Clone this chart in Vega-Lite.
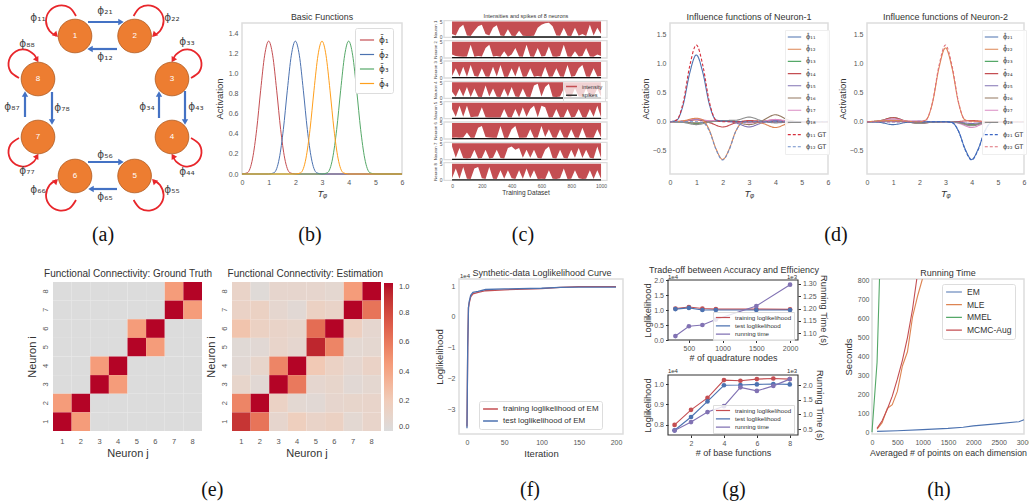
{"$schema":"https://vega.github.io/schema/vega-lite/v6.json","width":1029,"height":504,"padding":0,"autosize":{"type":"none"},"background":"white",
"config":{"view":{"stroke":null},"font":"Liberation Sans","axis":{"grid":false,"domain":false,"ticks":false,"labelColor":"#555","labelFontSize":7,"titleColor":"#333","titleFontSize":9.5,"titleFontWeight":"normal","labelPadding":4,"labelFlush":false,"labelOverlap":false,"labelBound":false},"text":{"color":"#333"}},
"resolve":{"scale":{"x":"independent","y":"independent","color":"independent","strokeDash":"independent"},"axis":{"x":"independent","y":"independent"},"legend":{"color":"independent","strokeDash":"independent"}},
"datasets":{
"cf":[{"t":-54,"t2":1040,"v":-0.1,"v2":5.3}],"cs":[{"t":0,"v":0},{"t":1000,"v":0}],
"c1":[{"t":0,"v":1},{"t":25,"v":0.5},{"t":50,"v":3},{"t":75,"v":4},{"t":100,"v":0.5},{"t":125,"v":0.3},{"t":150,"v":2},{"t":175,"v":3.5},{"t":200,"v":4},{"t":225,"v":1},{"t":250,"v":0.5},{"t":275,"v":3},{"t":300,"v":3.8},{"t":325,"v":0.5},{"t":350,"v":0.3},{"t":375,"v":2.5},{"t":400,"v":0.4},{"t":425,"v":0.3},{"t":450,"v":2},{"t":475,"v":0.4},{"t":500,"v":0.3},{"t":525,"v":0.3},{"t":550,"v":0.4},{"t":575,"v":3},{"t":600,"v":4},{"t":625,"v":4.5},{"t":650,"v":4.6},{"t":675,"v":3.5},{"t":700,"v":0.5},{"t":725,"v":0.4},{"t":750,"v":3},{"t":775,"v":0.4},{"t":800,"v":0.3},{"t":825,"v":3},{"t":850,"v":0.4},{"t":875,"v":1},{"t":900,"v":0.3},{"t":925,"v":4},{"t":950,"v":0.5},{"t":975,"v":3},{"t":1000,"v":1}],
"c2":[{"t":0,"v":1},{"t":25,"v":0.5},{"t":50,"v":0.4},{"t":75,"v":0.3},{"t":100,"v":0.4},{"t":125,"v":4},{"t":150,"v":0.3},{"t":175,"v":0.5},{"t":200,"v":0.4},{"t":225,"v":3},{"t":250,"v":4},{"t":275,"v":0.4},{"t":300,"v":0.5},{"t":325,"v":0.3},{"t":350,"v":2},{"t":375,"v":0.3},{"t":400,"v":1},{"t":425,"v":3},{"t":450,"v":0.4},{"t":475,"v":0.3},{"t":500,"v":4},{"t":525,"v":0.4},{"t":550,"v":0.3},{"t":575,"v":3},{"t":600,"v":0.4},{"t":625,"v":0.5},{"t":650,"v":3.5},{"t":675,"v":0.4},{"t":700,"v":0.3},{"t":725,"v":0.5},{"t":750,"v":4},{"t":775,"v":0.4},{"t":800,"v":0.3},{"t":825,"v":2},{"t":850,"v":0.4},{"t":875,"v":0.5},{"t":900,"v":3},{"t":925,"v":0.4},{"t":950,"v":0.3},{"t":975,"v":1},{"t":1000,"v":0.5}],
"c3":[{"t":0,"v":0.5},{"t":25,"v":3},{"t":50,"v":0.4},{"t":75,"v":3.5},{"t":100,"v":0.3},{"t":125,"v":4},{"t":150,"v":0.5},{"t":175,"v":0.3},{"t":200,"v":3},{"t":225,"v":0.4},{"t":250,"v":0.3},{"t":275,"v":3.5},{"t":300,"v":0.4},{"t":325,"v":4},{"t":350,"v":0.3},{"t":375,"v":0.3},{"t":400,"v":3},{"t":425,"v":0.4},{"t":450,"v":3.8},{"t":475,"v":0.3},{"t":500,"v":0.4},{"t":525,"v":3},{"t":550,"v":0.3},{"t":575,"v":0.5},{"t":600,"v":0.3},{"t":625,"v":3.5},{"t":650,"v":0.3},{"t":675,"v":0.4},{"t":700,"v":3},{"t":725,"v":0.4},{"t":750,"v":0.3},{"t":775,"v":4},{"t":800,"v":0.3},{"t":825,"v":0.5},{"t":850,"v":3},{"t":875,"v":4},{"t":900,"v":0.4},{"t":925,"v":0.3},{"t":950,"v":3},{"t":975,"v":0.4},{"t":1000,"v":0.5}],
"c4":[{"t":0,"v":2},{"t":25,"v":0.4},{"t":50,"v":3},{"t":75,"v":0.5},{"t":100,"v":3.5},{"t":125,"v":0.3},{"t":150,"v":3},{"t":175,"v":0.4},{"t":200,"v":0.3},{"t":225,"v":4},{"t":250,"v":0.5},{"t":275,"v":3},{"t":300,"v":0.4},{"t":325,"v":0.3},{"t":350,"v":3},{"t":375,"v":0.4},{"t":400,"v":3.5},{"t":425,"v":0.5},{"t":450,"v":0.3},{"t":475,"v":3},{"t":500,"v":0.4},{"t":525,"v":0.3},{"t":550,"v":4},{"t":575,"v":4.5},{"t":600,"v":0.5},{"t":625,"v":3.5},{"t":650,"v":4.5},{"t":675,"v":0.4},{"t":700,"v":0.3},{"t":725,"v":0.5},{"t":750,"v":3},{"t":775,"v":0.4},{"t":800,"v":0.3},{"t":825,"v":3},{"t":850,"v":0.5},{"t":875,"v":0.4},{"t":900,"v":3},{"t":925,"v":0.3},{"t":950,"v":0.5},{"t":975,"v":3},{"t":1000,"v":0.4}],
"c5":[{"t":0,"v":3},{"t":25,"v":0.5},{"t":50,"v":4},{"t":75,"v":0.5},{"t":100,"v":4},{"t":125,"v":0.4},{"t":150,"v":0.5},{"t":175,"v":0.6},{"t":200,"v":3.5},{"t":225,"v":0.4},{"t":250,"v":0.3},{"t":275,"v":0.3},{"t":300,"v":0.3},{"t":325,"v":0.3},{"t":350,"v":3},{"t":375,"v":0.4},{"t":400,"v":0.3},{"t":425,"v":3},{"t":450,"v":0.4},{"t":475,"v":3.5},{"t":500,"v":0.5},{"t":525,"v":3},{"t":550,"v":4},{"t":575,"v":0.4},{"t":600,"v":4},{"t":625,"v":3.5},{"t":650,"v":0.3},{"t":675,"v":0.4},{"t":700,"v":3},{"t":725,"v":0.3},{"t":750,"v":0.4},{"t":775,"v":3},{"t":800,"v":0.3},{"t":825,"v":0.5},{"t":850,"v":3},{"t":875,"v":0.4},{"t":900,"v":0.3},{"t":925,"v":3},{"t":950,"v":0.5},{"t":975,"v":4},{"t":1000,"v":0.4}],
"c6":[{"t":0,"v":0.3},{"t":25,"v":0.4},{"t":50,"v":0.3},{"t":75,"v":0.4},{"t":100,"v":2},{"t":125,"v":0.3},{"t":150,"v":0.3},{"t":175,"v":3.5},{"t":200,"v":4},{"t":225,"v":0.5},{"t":250,"v":0.4},{"t":275,"v":0.3},{"t":300,"v":0.3},{"t":325,"v":4},{"t":350,"v":0.3},{"t":375,"v":0.3},{"t":400,"v":3},{"t":425,"v":4},{"t":450,"v":0.3},{"t":475,"v":0.3},{"t":500,"v":0.4},{"t":525,"v":3},{"t":550,"v":0.3},{"t":575,"v":0.4},{"t":600,"v":4},{"t":625,"v":0.5},{"t":650,"v":3},{"t":675,"v":0.4},{"t":700,"v":0.3},{"t":725,"v":3},{"t":750,"v":0.4},{"t":775,"v":0.3},{"t":800,"v":3},{"t":825,"v":0.4},{"t":850,"v":0.3},{"t":875,"v":3.5},{"t":900,"v":0.4},{"t":925,"v":0.3},{"t":950,"v":0.3},{"t":975,"v":3},{"t":1000,"v":0.4}],
"c7":[{"t":0,"v":4},{"t":25,"v":0.5},{"t":50,"v":3.5},{"t":75,"v":0.4},{"t":100,"v":0.3},{"t":125,"v":0.4},{"t":150,"v":3},{"t":175,"v":0.3},{"t":200,"v":0.4},{"t":225,"v":3},{"t":250,"v":0.3},{"t":275,"v":0.5},{"t":300,"v":3},{"t":325,"v":0.4},{"t":350,"v":0.3},{"t":375,"v":3.5},{"t":400,"v":4},{"t":425,"v":3},{"t":450,"v":3.5},{"t":475,"v":0.5},{"t":500,"v":3},{"t":525,"v":0.5},{"t":550,"v":3},{"t":575,"v":0.4},{"t":600,"v":0.3},{"t":625,"v":3},{"t":650,"v":4},{"t":675,"v":0.4},{"t":700,"v":0.3},{"t":725,"v":3},{"t":750,"v":0.4},{"t":775,"v":0.3},{"t":800,"v":3},{"t":825,"v":0.5},{"t":850,"v":3.5},{"t":875,"v":0.4},{"t":900,"v":3},{"t":925,"v":0.5},{"t":950,"v":0.3},{"t":975,"v":4},{"t":1000,"v":0.4}],
"c8":[{"t":0,"v":0.5},{"t":25,"v":3.5},{"t":50,"v":0.4},{"t":75,"v":4},{"t":100,"v":0.4},{"t":125,"v":0.3},{"t":150,"v":3.5},{"t":175,"v":4},{"t":200,"v":0.5},{"t":225,"v":0.3},{"t":250,"v":4},{"t":275,"v":0.4},{"t":300,"v":0.3},{"t":325,"v":3},{"t":350,"v":0.4},{"t":375,"v":3},{"t":400,"v":0.5},{"t":425,"v":0.3},{"t":450,"v":3},{"t":475,"v":0.4},{"t":500,"v":3.5},{"t":525,"v":0.5},{"t":550,"v":3},{"t":575,"v":0.3},{"t":600,"v":0.4},{"t":625,"v":0.3},{"t":650,"v":3},{"t":675,"v":0.4},{"t":700,"v":0.3},{"t":725,"v":0.5},{"t":750,"v":3.5},{"t":775,"v":0.3},{"t":800,"v":0.4},{"t":825,"v":3},{"t":850,"v":0.5},{"t":875,"v":0.3},{"t":900,"v":0.4},{"t":925,"v":3},{"t":950,"v":0.3},{"t":975,"v":3},{"t":1000,"v":0.4}],
"e2":[{"i":8,"j":1,"v":0.12},{"i":8,"j":2,"v":0.03},{"i":8,"j":3,"v":0.09},{"i":8,"j":4,"v":0.09},{"i":8,"j":5,"v":0.09},{"i":8,"j":6,"v":0.07},{"i":8,"j":7,"v":0.45},{"i":8,"j":8,"v":1},{"i":7,"j":1,"v":0.13},{"i":7,"j":2,"v":0.15},{"i":7,"j":3,"v":0.08},{"i":7,"j":4,"v":0.05},{"i":7,"j":5,"v":0.15},{"i":7,"j":6,"v":0.12},{"i":7,"j":7,"v":1},{"i":7,"j":8,"v":0.62},{"i":6,"j":1,"v":0.25},{"i":6,"j":2,"v":0.15},{"i":6,"j":3,"v":0.12},{"i":6,"j":4,"v":0.1},{"i":6,"j":5,"v":0.65},{"i":6,"j":6,"v":1},{"i":6,"j":7,"v":0.17},{"i":6,"j":8,"v":0.08},{"i":5,"j":1,"v":0.04},{"i":5,"j":2,"v":0.05},{"i":5,"j":3,"v":0.11},{"i":5,"j":4,"v":0.08},{"i":5,"j":5,"v":0.93},{"i":5,"j":6,"v":0.55},{"i":5,"j":7,"v":0.06},{"i":5,"j":8,"v":0.07},{"i":4,"j":1,"v":0.05},{"i":4,"j":2,"v":0.1},{"i":4,"j":3,"v":0.55},{"i":4,"j":4,"v":1},{"i":4,"j":5,"v":0.22},{"i":4,"j":6,"v":0.14},{"i":4,"j":7,"v":0.08},{"i":4,"j":8,"v":0.13},{"i":3,"j":1,"v":0.1},{"i":3,"j":2,"v":0.05},{"i":3,"j":3,"v":1},{"i":3,"j":4,"v":0.6},{"i":3,"j":5,"v":0.08},{"i":3,"j":6,"v":0.1},{"i":3,"j":7,"v":0.05},{"i":3,"j":8,"v":0.07},{"i":2,"j":1,"v":0.55},{"i":2,"j":2,"v":1},{"i":2,"j":3,"v":0.14},{"i":2,"j":4,"v":0.06},{"i":2,"j":5,"v":0.05},{"i":2,"j":6,"v":0.09},{"i":2,"j":7,"v":0.1},{"i":2,"j":8,"v":0.11},{"i":1,"j":1,"v":0.88},{"i":1,"j":2,"v":0.62},{"i":1,"j":3,"v":0.09},{"i":1,"j":4,"v":0.18},{"i":1,"j":5,"v":0.12},{"i":1,"j":6,"v":0.15},{"i":1,"j":7,"v":0.06},{"i":1,"j":8,"v":0.11}],
"e1":[{"i":8,"j":1,"v":0},{"i":8,"j":2,"v":0},{"i":8,"j":3,"v":0},{"i":8,"j":4,"v":0},{"i":8,"j":5,"v":0},{"i":8,"j":6,"v":0},{"i":8,"j":7,"v":0.45},{"i":8,"j":8,"v":1},{"i":7,"j":1,"v":0},{"i":7,"j":2,"v":0},{"i":7,"j":3,"v":0},{"i":7,"j":4,"v":0},{"i":7,"j":5,"v":0},{"i":7,"j":6,"v":0},{"i":7,"j":7,"v":1},{"i":7,"j":8,"v":0.45},{"i":6,"j":1,"v":0},{"i":6,"j":2,"v":0},{"i":6,"j":3,"v":0},{"i":6,"j":4,"v":0},{"i":6,"j":5,"v":0.45},{"i":6,"j":6,"v":1},{"i":6,"j":7,"v":0},{"i":6,"j":8,"v":0},{"i":5,"j":1,"v":0},{"i":5,"j":2,"v":0},{"i":5,"j":3,"v":0},{"i":5,"j":4,"v":0},{"i":5,"j":5,"v":1},{"i":5,"j":6,"v":0.45},{"i":5,"j":7,"v":0},{"i":5,"j":8,"v":0},{"i":4,"j":1,"v":0},{"i":4,"j":2,"v":0},{"i":4,"j":3,"v":0.45},{"i":4,"j":4,"v":1},{"i":4,"j":5,"v":0},{"i":4,"j":6,"v":0},{"i":4,"j":7,"v":0},{"i":4,"j":8,"v":0},{"i":3,"j":1,"v":0},{"i":3,"j":2,"v":0},{"i":3,"j":3,"v":1},{"i":3,"j":4,"v":0.45},{"i":3,"j":5,"v":0},{"i":3,"j":6,"v":0},{"i":3,"j":7,"v":0},{"i":3,"j":8,"v":0},{"i":2,"j":1,"v":0.45},{"i":2,"j":2,"v":1},{"i":2,"j":3,"v":0},{"i":2,"j":4,"v":0},{"i":2,"j":5,"v":0},{"i":2,"j":6,"v":0},{"i":2,"j":7,"v":0},{"i":2,"j":8,"v":0},{"i":1,"j":1,"v":1},{"i":1,"j":2,"v":0.45},{"i":1,"j":3,"v":0},{"i":1,"j":4,"v":0},{"i":1,"j":5,"v":0},{"i":1,"j":6,"v":0},{"i":1,"j":7,"v":0},{"i":1,"j":8,"v":0}],
"d1":[
{"s":"ϕ̂₁₃","x":0,"y":0},{"s":"ϕ̂₁₃","x":0.5,"y":-0.008},{"s":"ϕ̂₁₃","x":1,"y":-0.03},{"s":"ϕ̂₁₃","x":1.5,"y":-0.003},{"s":"ϕ̂₁₃","x":2,"y":0.02},{"s":"ϕ̂₁₃","x":2.5,"y":0.005},{"s":"ϕ̂₁₃","x":3,"y":0},{"s":"ϕ̂₁₃","x":6,"y":0},
{"s":"ϕ̂₁₄","x":0,"y":0},{"s":"ϕ̂₁₄","x":0.5,"y":0.008},{"s":"ϕ̂₁₄","x":1,"y":0.03},{"s":"ϕ̂₁₄","x":1.5,"y":-0.015},{"s":"ϕ̂₁₄","x":2,"y":-0.09},{"s":"ϕ̂₁₄","x":2.5,"y":-0.018},{"s":"ϕ̂₁₄","x":3,"y":0.02},{"s":"ϕ̂₁₄","x":3.5,"y":0.012},{"s":"ϕ̂₁₄","x":4,"y":0.03},{"s":"ϕ̂₁₄","x":4.5,"y":0.008},{"s":"ϕ̂₁₄","x":5,"y":0},{"s":"ϕ̂₁₄","x":6,"y":0},
{"s":"ϕ̂₁₅","x":0,"y":0},{"s":"ϕ̂₁₅","x":0.5,"y":0.01},{"s":"ϕ̂₁₅","x":1,"y":0.04},{"s":"ϕ̂₁₅","x":1.5,"y":0.012},{"s":"ϕ̂₁₅","x":2,"y":0.01},{"s":"ϕ̂₁₅","x":2.5,"y":-0.02},{"s":"ϕ̂₁₅","x":3,"y":-0.09},{"s":"ϕ̂₁₅","x":3.5,"y":-0.018},{"s":"ϕ̂₁₅","x":4,"y":0.02},{"s":"ϕ̂₁₅","x":4.5,"y":0.005},{"s":"ϕ̂₁₅","x":5,"y":0},{"s":"ϕ̂₁₅","x":6,"y":0},
{"s":"ϕ̂₁₆","x":0,"y":0},{"s":"ϕ̂₁₆","x":0.5,"y":-0.005},{"s":"ϕ̂₁₆","x":1,"y":-0.02},{"s":"ϕ̂₁₆","x":1.5,"y":0},{"s":"ϕ̂₁₆","x":2,"y":0.02},{"s":"ϕ̂₁₆","x":2.5,"y":-0.008},{"s":"ϕ̂₁₆","x":3,"y":-0.05},{"s":"ϕ̂₁₆","x":3.5,"y":0.018},{"s":"ϕ̂₁₆","x":4,"y":0.12},{"s":"ϕ̂₁₆","x":4.5,"y":0.03},{"s":"ϕ̂₁₆","x":5,"y":0},{"s":"ϕ̂₁₆","x":6,"y":0},
{"s":"ϕ̂₁₇","x":0,"y":0},{"s":"ϕ̂₁₇","x":0.5,"y":0.012},{"s":"ϕ̂₁₇","x":1,"y":0.05},{"s":"ϕ̂₁₇","x":1.5,"y":0.018},{"s":"ϕ̂₁₇","x":2,"y":0.02},{"s":"ϕ̂₁₇","x":2.5,"y":0},{"s":"ϕ̂₁₇","x":3,"y":-0.02},{"s":"ϕ̂₁₇","x":3.5,"y":0.005},{"s":"ϕ̂₁₇","x":4,"y":0.04},{"s":"ϕ̂₁₇","x":4.5,"y":0.01},{"s":"ϕ̂₁₇","x":5,"y":0},{"s":"ϕ̂₁₇","x":6,"y":0},
{"s":"ϕ̂₁₈","x":0,"y":0},{"s":"ϕ̂₁₈","x":0.5,"y":-0.012},{"s":"ϕ̂₁₈","x":1,"y":-0.05},{"s":"ϕ̂₁₈","x":1.5,"y":-0.008},{"s":"ϕ̂₁₈","x":2,"y":0.02},{"s":"ϕ̂₁₈","x":2.5,"y":0.025},{"s":"ϕ̂₁₈","x":3,"y":0.08},{"s":"ϕ̂₁₈","x":3.5,"y":0.015},{"s":"ϕ̂₁₈","x":4,"y":-0.02},{"s":"ϕ̂₁₈","x":4.5,"y":-0.005},{"s":"ϕ̂₁₈","x":5,"y":0},{"s":"ϕ̂₁₈","x":6,"y":0},
{"s":"ϕ̂₁₂","x":0,"y":0},{"s":"ϕ̂₁₂","x":0.5,"y":0.015},{"s":"ϕ̂₁₂","x":1,"y":0.06},{"s":"ϕ̂₁₂","x":1.25,"y":0.03},{"s":"ϕ̂₁₂","x":1.5,"y":-0.15},{"s":"ϕ̂₁₂","x":1.75,"y":-0.47},{"s":"ϕ̂₁₂","x":2,"y":-0.65},{"s":"ϕ̂₁₂","x":2.25,"y":-0.47},{"s":"ϕ̂₁₂","x":2.5,"y":-0.16},{"s":"ϕ̂₁₂","x":2.75,"y":-0.014},{"s":"ϕ̂₁₂","x":3,"y":0},{"s":"ϕ̂₁₂","x":3.5,"y":-0.025},{"s":"ϕ̂₁₂","x":4,"y":-0.1},{"s":"ϕ̂₁₂","x":4.5,"y":-0.025},{"s":"ϕ̂₁₂","x":5,"y":0},{"s":"ϕ̂₁₂","x":6,"y":0},
{"s":"ϕ̂₁₁","x":0,"y":0},{"s":"ϕ̂₁₁","x":0.25,"y":0.025},{"s":"ϕ̂₁₁","x":0.5,"y":0.29},{"s":"ϕ̂₁₁","x":0.75,"y":0.84},{"s":"ϕ̂₁₁","x":1,"y":1.15},{"s":"ϕ̂₁₁","x":1.25,"y":0.84},{"s":"ϕ̂₁₁","x":1.5,"y":0.29},{"s":"ϕ̂₁₁","x":1.75,"y":0.03},{"s":"ϕ̂₁₁","x":2,"y":0.01},{"s":"ϕ̂₁₁","x":3,"y":0},{"s":"ϕ̂₁₁","x":6,"y":0},
{"s":"ϕ₁₁ GT","x":0,"y":0},{"s":"ϕ₁₁ GT","x":0.25,"y":0.028},{"s":"ϕ₁₁ GT","x":0.5,"y":0.33},{"s":"ϕ₁₁ GT","x":0.75,"y":0.962},{"s":"ϕ₁₁ GT","x":1,"y":1.32},{"s":"ϕ₁₁ GT","x":1.25,"y":0.962},{"s":"ϕ₁₁ GT","x":1.5,"y":0.33},{"s":"ϕ₁₁ GT","x":1.75,"y":0.028},{"s":"ϕ₁₁ GT","x":2,"y":0},{"s":"ϕ₁₁ GT","x":6,"y":0},
{"s":"ϕ₁₂ GT","x":0,"y":0},{"s":"ϕ₁₂ GT","x":1,"y":0},{"s":"ϕ₁₂ GT","x":1.25,"y":-0.014},{"s":"ϕ₁₂ GT","x":1.5,"y":-0.165},{"s":"ϕ₁₂ GT","x":1.75,"y":-0.481},{"s":"ϕ₁₂ GT","x":2,"y":-0.66},{"s":"ϕ₁₂ GT","x":2.25,"y":-0.481},{"s":"ϕ₁₂ GT","x":2.5,"y":-0.165},{"s":"ϕ₁₂ GT","x":2.75,"y":-0.014},{"s":"ϕ₁₂ GT","x":3,"y":0},{"s":"ϕ₁₂ GT","x":6,"y":0}],
"d2":[
{"s":"ϕ̂₂₃","x":0,"y":0},{"s":"ϕ̂₂₃","x":0.5,"y":0.018},{"s":"ϕ̂₂₃","x":1,"y":0.07},{"s":"ϕ̂₂₃","x":1.5,"y":0.012},{"s":"ϕ̂₂₃","x":2,"y":-0.02},{"s":"ϕ̂₂₃","x":2.5,"y":-0.005},{"s":"ϕ̂₂₃","x":3,"y":0},{"s":"ϕ̂₂₃","x":3.5,"y":-0.012},{"s":"ϕ̂₂₃","x":4,"y":-0.05},{"s":"ϕ̂₂₃","x":4.5,"y":-0.012},{"s":"ϕ̂₂₃","x":5,"y":0},{"s":"ϕ̂₂₃","x":6,"y":0},
{"s":"ϕ̂₂₄","x":0,"y":0},{"s":"ϕ̂₂₄","x":0.5,"y":0.018},{"s":"ϕ̂₂₄","x":1,"y":0.07},{"s":"ϕ̂₂₄","x":1.5,"y":0.01},{"s":"ϕ̂₂₄","x":2,"y":-0.03},{"s":"ϕ̂₂₄","x":2.5,"y":-0.008},{"s":"ϕ̂₂₄","x":3,"y":0},{"s":"ϕ̂₂₄","x":3.5,"y":0.005},{"s":"ϕ̂₂₄","x":4,"y":0.02},{"s":"ϕ̂₂₄","x":4.5,"y":0.005},{"s":"ϕ̂₂₄","x":5,"y":0},{"s":"ϕ̂₂₄","x":6,"y":0},
{"s":"ϕ̂₂₅","x":0,"y":0},{"s":"ϕ̂₂₅","x":1.5,"y":0.002},{"s":"ϕ̂₂₅","x":2,"y":0.01},{"s":"ϕ̂₂₅","x":2.5,"y":0.002},{"s":"ϕ̂₂₅","x":3,"y":0},{"s":"ϕ̂₂₅","x":3.5,"y":-0.008},{"s":"ϕ̂₂₅","x":4,"y":-0.03},{"s":"ϕ̂₂₅","x":4.5,"y":-0.008},{"s":"ϕ̂₂₅","x":5,"y":0},{"s":"ϕ̂₂₅","x":6,"y":0},
{"s":"ϕ̂₂₆","x":0,"y":0},{"s":"ϕ̂₂₆","x":0.5,"y":0.008},{"s":"ϕ̂₂₆","x":1,"y":0.03},{"s":"ϕ̂₂₆","x":1.5,"y":0.002},{"s":"ϕ̂₂₆","x":2,"y":-0.02},{"s":"ϕ̂₂₆","x":2.5,"y":-0.005},{"s":"ϕ̂₂₆","x":3,"y":0},{"s":"ϕ̂₂₆","x":3.5,"y":-0.015},{"s":"ϕ̂₂₆","x":4,"y":-0.06},{"s":"ϕ̂₂₆","x":4.5,"y":-0.015},{"s":"ϕ̂₂₆","x":5,"y":0},{"s":"ϕ̂₂₆","x":6,"y":0},
{"s":"ϕ̂₂₇","x":0,"y":0},{"s":"ϕ̂₂₇","x":0.5,"y":0.012},{"s":"ϕ̂₂₇","x":1,"y":0.05},{"s":"ϕ̂₂₇","x":1.5,"y":0.015},{"s":"ϕ̂₂₇","x":2,"y":0.01},{"s":"ϕ̂₂₇","x":2.5,"y":0.002},{"s":"ϕ̂₂₇","x":3,"y":0},{"s":"ϕ̂₂₇","x":3.5,"y":-0.025},{"s":"ϕ̂₂₇","x":4,"y":-0.1},{"s":"ϕ̂₂₇","x":4.5,"y":-0.025},{"s":"ϕ̂₂₇","x":5,"y":0},{"s":"ϕ̂₂₇","x":6,"y":0},
{"s":"ϕ̂₂₈","x":0,"y":0},{"s":"ϕ̂₂₈","x":0.5,"y":0.005},{"s":"ϕ̂₂₈","x":1,"y":0.02},{"s":"ϕ̂₂₈","x":1.5,"y":-0.002},{"s":"ϕ̂₂₈","x":2,"y":-0.03},{"s":"ϕ̂₂₈","x":2.5,"y":-0.008},{"s":"ϕ̂₂₈","x":3,"y":0},{"s":"ϕ̂₂₈","x":3.5,"y":-0.018},{"s":"ϕ̂₂₈","x":4,"y":-0.07},{"s":"ϕ̂₂₈","x":4.5,"y":-0.018},{"s":"ϕ̂₂₈","x":5,"y":0},{"s":"ϕ̂₂₈","x":6,"y":0},
{"s":"ϕ̂₂₁","x":0,"y":0},{"s":"ϕ̂₂₁","x":0.5,"y":-0.012},{"s":"ϕ̂₂₁","x":1,"y":-0.05},{"s":"ϕ̂₂₁","x":1.5,"y":-0.012},{"s":"ϕ̂₂₁","x":2,"y":0},{"s":"ϕ̂₂₁","x":3,"y":0},{"s":"ϕ̂₂₁","x":3.25,"y":-0.014},{"s":"ϕ̂₂₁","x":3.5,"y":-0.165},{"s":"ϕ̂₂₁","x":3.75,"y":-0.47},{"s":"ϕ̂₂₁","x":4,"y":-0.65},{"s":"ϕ̂₂₁","x":4.25,"y":-0.47},{"s":"ϕ̂₂₁","x":4.5,"y":-0.165},{"s":"ϕ̂₂₁","x":4.75,"y":-0.014},{"s":"ϕ̂₂₁","x":5,"y":0},{"s":"ϕ̂₂₁","x":6,"y":0},
{"s":"ϕ̂₂₂","x":0,"y":0},{"s":"ϕ̂₂₂","x":1,"y":0.02},{"s":"ϕ̂₂₂","x":2,"y":0},{"s":"ϕ̂₂₂","x":2.25,"y":0.03},{"s":"ϕ̂₂₂","x":2.5,"y":0.32},{"s":"ϕ̂₂₂","x":2.75,"y":0.925},{"s":"ϕ̂₂₂","x":3,"y":1.27},{"s":"ϕ̂₂₂","x":3.25,"y":0.925},{"s":"ϕ̂₂₂","x":3.5,"y":0.32},{"s":"ϕ̂₂₂","x":3.75,"y":0.03},{"s":"ϕ̂₂₂","x":4,"y":0.01},{"s":"ϕ̂₂₂","x":5,"y":0},{"s":"ϕ̂₂₂","x":6,"y":0},
{"s":"ϕ₂₁ GT","x":0,"y":0},{"s":"ϕ₂₁ GT","x":3,"y":0},{"s":"ϕ₂₁ GT","x":3.25,"y":-0.014},{"s":"ϕ₂₁ GT","x":3.5,"y":-0.165},{"s":"ϕ₂₁ GT","x":3.75,"y":-0.481},{"s":"ϕ₂₁ GT","x":4,"y":-0.66},{"s":"ϕ₂₁ GT","x":4.25,"y":-0.481},{"s":"ϕ₂₁ GT","x":4.5,"y":-0.165},{"s":"ϕ₂₁ GT","x":4.75,"y":-0.014},{"s":"ϕ₂₁ GT","x":5,"y":0},{"s":"ϕ₂₁ GT","x":6,"y":0},
{"s":"ϕ₂₂ GT","x":0,"y":0},{"s":"ϕ₂₂ GT","x":2,"y":0},{"s":"ϕ₂₂ GT","x":2.25,"y":0.028},{"s":"ϕ₂₂ GT","x":2.5,"y":0.33},{"s":"ϕ₂₂ GT","x":2.75,"y":0.962},{"s":"ϕ₂₂ GT","x":3,"y":1.32},{"s":"ϕ₂₂ GT","x":3.25,"y":0.962},{"s":"ϕ₂₂ GT","x":3.5,"y":0.33},{"s":"ϕ₂₂ GT","x":3.75,"y":0.028},{"s":"ϕ₂₂ GT","x":4,"y":0},{"s":"ϕ₂₂ GT","x":6,"y":0}]
},
"layer":[
{"encoding":{"x":{"field":"x","type":"quantitative","scale":{"domain":[0,210],"range":[0,210]},"axis":null},"y":{"field":"y","type":"quantitative","scale":{"domain":[0,210],"range":[0,210]},"axis":null}},
"layer":[
{"data":{"values":[{"g":"1","i":0,"x":76,"y":16},{"g":"1","i":1,"x":69.3,"y":7.6},{"g":"1","i":2,"x":58.8,"y":5.7},{"g":"1","i":3,"x":49.6,"y":11},{"g":"1","i":4,"x":46,"y":21},{"g":"1","i":5,"x":49.6,"y":31},{"g":"1","i":6,"x":56.2,"y":35.6},{"g":"2","i":0,"x":133.6,"y":16},{"g":"2","i":1,"x":140.3,"y":7.6},{"g":"2","i":2,"x":150.8,"y":5.7},{"g":"2","i":3,"x":160,"y":11},{"g":"2","i":4,"x":163.6,"y":21},{"g":"2","i":5,"x":160,"y":31},{"g":"2","i":6,"x":153.4,"y":35.6},{"g":"6","i":0,"x":76,"y":200},{"g":"6","i":1,"x":69.3,"y":208.4},{"g":"6","i":2,"x":58.8,"y":210.3},{"g":"6","i":3,"x":49.6,"y":205},{"g":"6","i":4,"x":46,"y":195},{"g":"6","i":5,"x":49.6,"y":185},{"g":"6","i":6,"x":56.2,"y":180.4},{"g":"5","i":0,"x":133.6,"y":200},{"g":"5","i":1,"x":140.3,"y":208.4},{"g":"5","i":2,"x":150.8,"y":210.3},{"g":"5","i":3,"x":160,"y":205},{"g":"5","i":4,"x":163.6,"y":195},{"g":"5","i":5,"x":160,"y":185},{"g":"5","i":6,"x":153.4,"y":180.4},{"g":"3","i":0,"x":191,"y":78},{"g":"3","i":1,"x":199.6,"y":71.3},{"g":"3","i":2,"x":201,"y":60.2},{"g":"3","i":3,"x":194.3,"y":51.4},{"g":"3","i":4,"x":184.5,"y":49.7},{"g":"3","i":5,"x":175.9,"y":54.7},{"g":"3","i":6,"x":173,"y":60.2},{"g":"4","i":0,"x":191,"y":138},{"g":"4","i":1,"x":199.6,"y":144.7},{"g":"4","i":2,"x":201,"y":155.8},{"g":"4","i":3,"x":194.3,"y":164.6},{"g":"4","i":4,"x":184.5,"y":166.3},{"g":"4","i":5,"x":175.9,"y":161.3},{"g":"4","i":6,"x":173,"y":155.8},{"g":"8","i":0,"x":19,"y":78},{"g":"8","i":1,"x":10.4,"y":71.3},{"g":"8","i":2,"x":9,"y":60.2},{"g":"8","i":3,"x":15.7,"y":51.4},{"g":"8","i":4,"x":25.5,"y":49.7},{"g":"8","i":5,"x":34.1,"y":54.7},{"g":"8","i":6,"x":37,"y":60.2},{"g":"7","i":0,"x":19,"y":138},{"g":"7","i":1,"x":10.4,"y":144.7},{"g":"7","i":2,"x":9,"y":155.8},{"g":"7","i":3,"x":15.7,"y":164.6},{"g":"7","i":4,"x":25.5,"y":166.3},{"g":"7","i":5,"x":34.1,"y":161.3},{"g":"7","i":6,"x":37,"y":155.8}]},"mark":{"type":"line","color":"#e8262b","strokeWidth":1.8,"interpolate":"cardinal"},"encoding":{"detail":{"field":"g"},"order":{"field":"i"}}},
{"data":{"values":[{"g":"a","x":88,"y":22},{"g":"a","x":121,"y":22},{"g":"b","x":117,"y":49},{"g":"b","x":90,"y":49},{"g":"c","x":25,"y":117},{"g":"c","x":25,"y":94},{"g":"d","x":52,"y":92},{"g":"d","x":52,"y":122},{"g":"e","x":159,"y":118},{"g":"e","x":159,"y":94},{"g":"f","x":185,"y":91},{"g":"f","x":185,"y":122},{"g":"h","x":88,"y":162},{"g":"h","x":121,"y":162},{"g":"i","x":117,"y":189},{"g":"i","x":91,"y":189}]},"mark":{"type":"line","color":"#4472c4","strokeWidth":2.2},"encoding":{"detail":{"field":"g"}}},
{"data":{"values":[{"x":121,"y":22,"a":90},{"x":90,"y":49,"a":270},{"x":25,"y":94,"a":0},{"x":52,"y":122,"a":180},{"x":159,"y":94,"a":0},{"x":185,"y":122,"a":180},{"x":121,"y":162,"a":90},{"x":91,"y":189,"a":270}]},"mark":{"type":"point","shape":"triangle-up","filled":true,"size":40,"color":"#4472c4","opacity":1},"encoding":{"angle":{"field":"a","type":"quantitative","scale":null}}},
{"data":{"values":[{"x":56,"y":35,"a":135},{"x":154,"y":35,"a":225},{"x":56,"y":181,"a":45},{"x":154,"y":181,"a":315},{"x":173,"y":60,"a":210},{"x":173,"y":156,"a":330},{"x":37,"y":60,"a":150},{"x":37,"y":156,"a":30}]},"mark":{"type":"point","shape":"triangle-up","filled":true,"size":40,"color":"#e8262b","opacity":1},"encoding":{"angle":{"field":"a","type":"quantitative","scale":null}}},
{"data":{"values":[{"n":"1","x":75,"y":36},{"n":"2","x":134.6,"y":36},{"n":"3","x":172,"y":79},{"n":"4","x":172,"y":137},{"n":"5","x":134.6,"y":176},{"n":"6","x":75,"y":176},{"n":"7","x":38,"y":137},{"n":"8","x":38,"y":79}]},"layer":[{"mark":{"type":"point","shape":"circle","filled":true,"size":1134,"color":"#ed7d31","stroke":"#ae5a21","strokeWidth":0.8,"opacity":1}},{"mark":{"type":"text","color":"#fff","fontSize":8},"encoding":{"text":{"field":"n"}}}]},
{"data":{"values":[{"t":"ϕ₁₁","x":38,"y":18},{"t":"ϕ₂₁","x":105,"y":11},{"t":"ϕ₂₂","x":172,"y":18},{"t":"ϕ₃₃","x":187,"y":42},{"t":"ϕ₄₃","x":196,"y":107},{"t":"ϕ₃₄","x":147,"y":107},{"t":"ϕ₄₄","x":187,"y":172},{"t":"ϕ₅₅","x":172,"y":190},{"t":"ϕ₅₆","x":105,"y":155},{"t":"ϕ₆₅","x":105,"y":197},{"t":"ϕ₆₆","x":38,"y":190},{"t":"ϕ₇₇","x":27,"y":171},{"t":"ϕ₈₇","x":12,"y":107},{"t":"ϕ₇₈","x":62,"y":108},{"t":"ϕ₈₈","x":27,"y":44},{"t":"ϕ₁₂","x":105,"y":57}]},"mark":{"type":"text","fontSize":10.5,"color":"#444","font":"DejaVu Sans"},"encoding":{"text":{"field":"t"}}},
{"data":{"values":[{"t":"(a)","x":103,"y":235}]},"mark":{"type":"text","fontSize":20,"font":"Liberation Serif","color":"#111"},"encoding":{"text":{"field":"t"}}}
]},
{"encoding":{"x":{"field":"x","type":"quantitative","scale":{"domain":[0,6],"range":[242,402]},"axis":{"orient":"bottom","title":"Tᵩ","titleFontStyle":"italic","offset":-330,"values":[0,1,2,3,4,5,6],"titlePadding":3}},"y":{"field":"y","type":"quantitative","scale":{"domain":[0,1.5],"range":[174,23]},"axis":{"orient":"left","title":"Activation","offset":-242,"values":[0,0.2,0.4,0.6,0.8,1,1.2,1.4],"format":".1f","titlePadding":4}}},
"layer":[
{"data":{"values":[{"x":0,"x1":6,"y":0,"y1":1.5}]},"mark":{"type":"rect","fill":null,"stroke":"#ddd","strokeWidth":1.5},"encoding":{"x2":{"field":"x1"},"y2":{"field":"y1"}}},
{"data":{"values":[{"s":"ϕ̄₁","x":0,"y":0},{"s":"ϕ̄₁","x":0.2,"y":0.012},{"s":"ϕ̄₁","x":0.4,"y":0.158},{"s":"ϕ̄₁","x":0.55,"y":0.441},{"s":"ϕ̄₁","x":0.7,"y":0.832},{"s":"ϕ̄₁","x":0.85,"y":1.18},{"s":"ϕ̄₁","x":1,"y":1.32},{"s":"ϕ̄₁","x":1.15,"y":1.18},{"s":"ϕ̄₁","x":1.3,"y":0.832},{"s":"ϕ̄₁","x":1.45,"y":0.441},{"s":"ϕ̄₁","x":1.6,"y":0.158},{"s":"ϕ̄₁","x":1.8,"y":0.012},{"s":"ϕ̄₁","x":2,"y":0},{"s":"ϕ̄₁","x":6,"y":0},
{"s":"ϕ̄₂","x":0,"y":0},{"s":"ϕ̄₂","x":1,"y":0},{"s":"ϕ̄₂","x":1.2,"y":0.012},{"s":"ϕ̄₂","x":1.4,"y":0.158},{"s":"ϕ̄₂","x":1.55,"y":0.441},{"s":"ϕ̄₂","x":1.7,"y":0.832},{"s":"ϕ̄₂","x":1.85,"y":1.18},{"s":"ϕ̄₂","x":2,"y":1.32},{"s":"ϕ̄₂","x":2.15,"y":1.18},{"s":"ϕ̄₂","x":2.3,"y":0.832},{"s":"ϕ̄₂","x":2.45,"y":0.441},{"s":"ϕ̄₂","x":2.6,"y":0.158},{"s":"ϕ̄₂","x":2.8,"y":0.012},{"s":"ϕ̄₂","x":3,"y":0},{"s":"ϕ̄₂","x":6,"y":0},
{"s":"ϕ̄₃","x":0,"y":0},{"s":"ϕ̄₃","x":3,"y":0},{"s":"ϕ̄₃","x":3.2,"y":0.012},{"s":"ϕ̄₃","x":3.4,"y":0.158},{"s":"ϕ̄₃","x":3.55,"y":0.441},{"s":"ϕ̄₃","x":3.7,"y":0.832},{"s":"ϕ̄₃","x":3.85,"y":1.18},{"s":"ϕ̄₃","x":4,"y":1.32},{"s":"ϕ̄₃","x":4.15,"y":1.18},{"s":"ϕ̄₃","x":4.3,"y":0.832},{"s":"ϕ̄₃","x":4.45,"y":0.441},{"s":"ϕ̄₃","x":4.6,"y":0.158},{"s":"ϕ̄₃","x":4.8,"y":0.012},{"s":"ϕ̄₃","x":5,"y":0},{"s":"ϕ̄₃","x":6,"y":0},
{"s":"ϕ̄₄","x":0,"y":0},{"s":"ϕ̄₄","x":2,"y":0},{"s":"ϕ̄₄","x":2.2,"y":0.012},{"s":"ϕ̄₄","x":2.4,"y":0.158},{"s":"ϕ̄₄","x":2.55,"y":0.441},{"s":"ϕ̄₄","x":2.7,"y":0.832},{"s":"ϕ̄₄","x":2.85,"y":1.18},{"s":"ϕ̄₄","x":3,"y":1.32},{"s":"ϕ̄₄","x":3.15,"y":1.18},{"s":"ϕ̄₄","x":3.3,"y":0.832},{"s":"ϕ̄₄","x":3.45,"y":0.441},{"s":"ϕ̄₄","x":3.6,"y":0.158},{"s":"ϕ̄₄","x":3.8,"y":0.012},{"s":"ϕ̄₄","x":4,"y":0},{"s":"ϕ̄₄","x":6,"y":0}]},"mark":{"type":"line","interpolate":"monotone","strokeWidth":1},"encoding":{"color":{"field":"s","type":"nominal","scale":{"domain":["ϕ̄₁","ϕ̄₂","ϕ̄₃","ϕ̄₄"],"range":["#c44e52","#4c72b0","#55a868","#ff9f1c"]},"legend":{"title":null,"orient":"none","legendX":355,"legendY":28,"symbolType":"stroke","symbolSize":200,"symbolStrokeWidth":1.2,"fillColor":"#fff","strokeColor":"#ddd","cornerRadius":2,"padding":4,"labelFontSize":9,"labelColor":"#333","rowPadding":1.5,"labelFont":"DejaVu Sans"}}}},
{"data":{"values":[{"t":"Basic Functions","x":3,"y":1.56}]},"mark":{"type":"text","fontSize":8.8},"encoding":{"text":{"field":"t"}}},
{"data":{"values":[{"t":"(b)","x":2.55,"y":-0.606}]},"mark":{"type":"text","fontSize":20,"font":"Liberation Serif","color":"#111"},"encoding":{"text":{"field":"t"}}}
]},
{"encoding":{"x":{"field":"t","type":"quantitative","scale":{"domain":[-54,1040],"range":[444,607]},"axis":null},"y":{"field":"v","type":"quantitative","scale":{"domain":[-0.1,5.3],"range":[37.3,20.7]},"axis":{"orient":"left","title":"Neuron 1","offset":-444,"values":[0,5],"labelFontSize":5,"titleFontSize":4.3,"titlePadding":2,"labelPadding":2}}},"layer":[{"data":{"name":"cf"},"mark":{"type":"rect","fill":null,"stroke":"#ddd","strokeWidth":1.3},"encoding":{"x2":{"field":"t2"},"y2":{"field":"v2"}}},{"data":{"name":"c1"},"mark":{"type":"area","color":"#c44e52"},"encoding":{"y2":{"datum":5}}},{"data":{"name":"cs"},"mark":{"type":"line","color":"#111","strokeWidth":1.3}},{"data":{"values":[{"l":"Intensities and spikes of 8 neurons","t":496,"v":6.83}]},"mark":{"type":"text","fontSize":5.5},"encoding":{"text":{"field":"l"}}}]},
{"encoding":{"x":{"field":"t","type":"quantitative","scale":{"domain":[-54,1040],"range":[444,607]},"axis":null},"y":{"field":"v","type":"quantitative","scale":{"domain":[-0.1,5.3],"range":[58,40.7]},"axis":{"orient":"left","title":"Neuron 2","offset":-444,"values":[0,5],"labelFontSize":5,"titleFontSize":4.3,"titlePadding":2,"labelPadding":2}}},"layer":[{"data":{"name":"cf"},"mark":{"type":"rect","fill":null,"stroke":"#ddd","strokeWidth":1.3},"encoding":{"x2":{"field":"t2"},"y2":{"field":"v2"}}},{"data":{"name":"c2"},"mark":{"type":"area","color":"#c44e52"},"encoding":{"y2":{"datum":5}}},{"data":{"name":"cs"},"mark":{"type":"line","color":"#111","strokeWidth":1.3}}]},
{"encoding":{"x":{"field":"t","type":"quantitative","scale":{"domain":[-54,1040],"range":[444,607]},"axis":null},"y":{"field":"v","type":"quantitative","scale":{"domain":[-0.1,5.3],"range":[78,61]},"axis":{"orient":"left","title":"Neuron 3","offset":-444,"values":[0,5],"labelFontSize":5,"titleFontSize":4.3,"titlePadding":2,"labelPadding":2}}},"layer":[{"data":{"name":"cf"},"mark":{"type":"rect","fill":null,"stroke":"#ddd","strokeWidth":1.3},"encoding":{"x2":{"field":"t2"},"y2":{"field":"v2"}}},{"data":{"name":"c3"},"mark":{"type":"area","color":"#c44e52"},"encoding":{"y2":{"datum":5}}},{"data":{"name":"cs"},"mark":{"type":"line","color":"#111","strokeWidth":1.3}}]},
{"encoding":{"x":{"field":"t","type":"quantitative","scale":{"domain":[-54,1040],"range":[444,607]},"axis":null},"y":{"field":"v","type":"quantitative","scale":{"domain":[-0.1,5.3],"range":[98.3,81.3]},"axis":{"orient":"left","title":"Neuron 4","offset":-444,"values":[0,5],"labelFontSize":5,"titleFontSize":4.3,"titlePadding":2,"labelPadding":2}}},"layer":[{"data":{"name":"cf"},"mark":{"type":"rect","fill":null,"stroke":"#ddd","strokeWidth":1.3},"encoding":{"x2":{"field":"t2"},"y2":{"field":"v2"}}},{"data":{"name":"c4"},"mark":{"type":"area","color":"#c44e52"},"encoding":{"y2":{"datum":5}}},{"data":{"name":"cs"},"mark":{"type":"line","color":"#111","strokeWidth":1.3}},{"data":{"values":[{"s":"intensity","t":0,"v":0},{"s":"spikes","t":0,"v":0}]},"mark":{"type":"line","strokeWidth":1},"encoding":{"color":{"field":"s","type":"nominal","scale":{"domain":["intensity","spikes"],"range":["#c44e52","#333"]},"legend":{"title":null,"orient":"none","legendX":563,"legendY":81,"symbolType":"stroke","symbolSize":120,"clipHeight":7,"fillColor":"rgba(255,255,255,0.75)","strokeColor":"#ddd","padding":2,"labelFontSize":5.5,"labelColor":"#333","rowPadding":1.7,"labelOffset":4}}}}]},
{"encoding":{"x":{"field":"t","type":"quantitative","scale":{"domain":[-54,1040],"range":[444,607]},"axis":null},"y":{"field":"v","type":"quantitative","scale":{"domain":[-0.1,5.3],"range":[118.7,101.7]},"axis":{"orient":"left","title":"Neuron 5","offset":-444,"values":[0,5],"labelFontSize":5,"titleFontSize":4.3,"titlePadding":2,"labelPadding":2}}},"layer":[{"data":{"name":"cf"},"mark":{"type":"rect","fill":null,"stroke":"#ddd","strokeWidth":1.3},"encoding":{"x2":{"field":"t2"},"y2":{"field":"v2"}}},{"data":{"name":"c5"},"mark":{"type":"area","color":"#c44e52"},"encoding":{"y2":{"datum":5}}},{"data":{"name":"cs"},"mark":{"type":"line","color":"#111","strokeWidth":1.3}}]},
{"encoding":{"x":{"field":"t","type":"quantitative","scale":{"domain":[-54,1040],"range":[444,607]},"axis":null},"y":{"field":"v","type":"quantitative","scale":{"domain":[-0.1,5.3],"range":[139,122]},"axis":{"orient":"left","title":"Neuron 6","offset":-444,"values":[0,5],"labelFontSize":5,"titleFontSize":4.3,"titlePadding":2,"labelPadding":2}}},"layer":[{"data":{"name":"cf"},"mark":{"type":"rect","fill":null,"stroke":"#ddd","strokeWidth":1.3},"encoding":{"x2":{"field":"t2"},"y2":{"field":"v2"}}},{"data":{"name":"c6"},"mark":{"type":"area","color":"#c44e52"},"encoding":{"y2":{"datum":5}}},{"data":{"name":"cs"},"mark":{"type":"line","color":"#111","strokeWidth":1.3}}]},
{"encoding":{"x":{"field":"t","type":"quantitative","scale":{"domain":[-54,1040],"range":[444,607]},"axis":null},"y":{"field":"v","type":"quantitative","scale":{"domain":[-0.1,5.3],"range":[159.7,142.3]},"axis":{"orient":"left","title":"Neuron 7","offset":-444,"values":[0,5],"labelFontSize":5,"titleFontSize":4.3,"titlePadding":2,"labelPadding":2}}},"layer":[{"data":{"name":"cf"},"mark":{"type":"rect","fill":null,"stroke":"#ddd","strokeWidth":1.3},"encoding":{"x2":{"field":"t2"},"y2":{"field":"v2"}}},{"data":{"name":"c7"},"mark":{"type":"area","color":"#c44e52"},"encoding":{"y2":{"datum":5}}},{"data":{"name":"cs"},"mark":{"type":"line","color":"#111","strokeWidth":1.3}}]},
{"encoding":{"x":{"field":"t","type":"quantitative","scale":{"domain":[-54,1040],"range":[444,607]},"axis":{"orient":"bottom","title":"Training Dataset","offset":-323.7,"values":[0,200,400,600,800,1000],"format":"d","labelFontSize":5,"titleFontSize":6.5,"titlePadding":1,"labelPadding":3}},"y":{"field":"v","type":"quantitative","scale":{"domain":[-0.1,5.3],"range":[180.3,162.7]},"axis":{"orient":"left","title":"Neuron 8","offset":-444,"values":[0,5],"labelFontSize":5,"titleFontSize":4.3,"titlePadding":2,"labelPadding":2}}},"layer":[{"data":{"name":"cf"},"mark":{"type":"rect","fill":null,"stroke":"#ddd","strokeWidth":1.3},"encoding":{"x2":{"field":"t2"},"y2":{"field":"v2"}}},{"data":{"name":"c8"},"mark":{"type":"area","color":"#c44e52"},"encoding":{"y2":{"datum":5}}},{"data":{"name":"cs"},"mark":{"type":"line","color":"#111","strokeWidth":1.3}},{"data":{"values":[{"l":"(c)","t":476,"v":-16.9}]},"mark":{"type":"text","fontSize":20,"font":"Liberation Serif","color":"#111"},"encoding":{"text":{"field":"l"}}}]},
{"encoding":{"x":{"field":"x","type":"quantitative","scale":{"domain":[0,6],"range":[670,828]},"axis":{"orient":"bottom","title":"Tᵩ","titleFontStyle":"italic","offset":-330,"values":[0,1,2,3,4,5,6],"titlePadding":3}},"y":{"field":"y","type":"quantitative","scale":{"domain":[-0.9,1.7],"range":[174,23]},"axis":{"orient":"left","title":"Activation","offset":-670,"values":[-0.5,0,0.5,1,1.5],"format":".1f","titlePadding":2}}},
"layer":[
{"data":{"values":[{"x":0,"x1":6,"y":-0.9,"y1":1.7}]},"mark":{"type":"rect","fill":null,"stroke":"#ddd","strokeWidth":1.5},"encoding":{"x2":{"field":"x1"},"y2":{"field":"y1"}}},
{"data":{"name":"d1"},"mark":{"type":"line","interpolate":"monotone","strokeWidth":1.1},"encoding":{"color":{"field":"s","type":"nominal","scale":{"domain":["ϕ̂₁₁","ϕ̂₁₂","ϕ̂₁₃","ϕ̂₁₄","ϕ̂₁₅","ϕ̂₁₆","ϕ̂₁₇","ϕ̂₁₈","ϕ₁₁ GT","ϕ₁₂ GT"],"range":["#4c72b0","#dd8452","#55a868","#c44e52","#8172b3","#937860","#da8bc3","#8c8c8c","#d62f3c","#6f8fc9"]},"legend":{"title":null,"orient":"none","legendX":785,"legendY":30,"symbolType":"stroke","symbolSize":180,"clipHeight":10,"symbolStrokeWidth":1.1,"fillColor":"rgba(255,255,255,0.85)","strokeColor":"#eee","padding":2,"labelFontSize":6.5,"labelColor":"#333","rowPadding":2.2,"labelFont":"DejaVu Sans"}},"strokeDash":{"field":"s","type":"nominal","scale":{"domain":["ϕ̂₁₁","ϕ̂₁₂","ϕ̂₁₃","ϕ̂₁₄","ϕ̂₁₅","ϕ̂₁₆","ϕ̂₁₇","ϕ̂₁₈","ϕ₁₁ GT","ϕ₁₂ GT"],"range":[[1,0],[1,0],[1,0],[1,0],[1,0],[1,0],[1,0],[1,0],[3,2],[3,2]]},"legend":{"title":null,"orient":"none","legendX":785,"legendY":30,"symbolType":"stroke","symbolSize":180,"clipHeight":10,"symbolStrokeWidth":1.1,"fillColor":"rgba(255,255,255,0.85)","strokeColor":"#eee","padding":2,"labelFontSize":6.5,"labelColor":"#333","rowPadding":2.2,"labelFont":"DejaVu Sans"}}}},
{"data":{"values":[{"t":"Influence functions of Neuron-1","x":3,"y":1.8}]},"mark":{"type":"text","fontSize":9},"encoding":{"text":{"field":"t"}}},
{"data":{"values":[{"t":"(d)","x":6.3,"y":-1.95}]},"mark":{"type":"text","fontSize":20,"font":"Liberation Serif","color":"#111"},"encoding":{"text":{"field":"t"}}}
]},
{"encoding":{"x":{"field":"x","type":"quantitative","scale":{"domain":[0,6],"range":[867,1024]},"axis":{"orient":"bottom","title":"Tᵩ","titleFontStyle":"italic","offset":-330,"values":[0,1,2,3,4,5,6],"titlePadding":3}},"y":{"field":"y","type":"quantitative","scale":{"domain":[-0.9,1.7],"range":[174,23]},"axis":{"orient":"left","title":"Activation","offset":-867,"values":[-0.5,0,0.5,1,1.5],"format":".1f","titlePadding":2}}},
"layer":[
{"data":{"values":[{"x":0,"x1":6,"y":-0.9,"y1":1.7}]},"mark":{"type":"rect","fill":null,"stroke":"#ddd","strokeWidth":1.5},"encoding":{"x2":{"field":"x1"},"y2":{"field":"y1"}}},
{"data":{"name":"d2"},"mark":{"type":"line","interpolate":"monotone","strokeWidth":1.1},"encoding":{"color":{"field":"s","type":"nominal","scale":{"domain":["ϕ̂₂₁","ϕ̂₂₂","ϕ̂₂₃","ϕ̂₂₄","ϕ̂₂₅","ϕ̂₂₆","ϕ̂₂₇","ϕ̂₂₈","ϕ₂₁ GT","ϕ₂₂ GT"],"range":["#4c72b0","#dd8452","#55a868","#c44e52","#8172b3","#937860","#da8bc3","#8c8c8c","#3b66c4","#e0707a"]},"legend":{"title":null,"orient":"none","legendX":982,"legendY":30,"symbolType":"stroke","symbolSize":180,"clipHeight":10,"symbolStrokeWidth":1.1,"fillColor":"rgba(255,255,255,0.85)","strokeColor":"#eee","padding":2,"labelFontSize":6.5,"labelColor":"#333","rowPadding":2.2,"labelFont":"DejaVu Sans"}},"strokeDash":{"field":"s","type":"nominal","scale":{"domain":["ϕ̂₂₁","ϕ̂₂₂","ϕ̂₂₃","ϕ̂₂₄","ϕ̂₂₅","ϕ̂₂₆","ϕ̂₂₇","ϕ̂₂₈","ϕ₂₁ GT","ϕ₂₂ GT"],"range":[[1,0],[1,0],[1,0],[1,0],[1,0],[1,0],[1,0],[1,0],[3,2],[3,2]]},"legend":{"title":null,"orient":"none","legendX":982,"legendY":30,"symbolType":"stroke","symbolSize":180,"clipHeight":10,"symbolStrokeWidth":1.1,"fillColor":"rgba(255,255,255,0.85)","strokeColor":"#eee","padding":2,"labelFontSize":6.5,"labelColor":"#333","rowPadding":2.2,"labelFont":"DejaVu Sans"}}}},
{"data":{"values":[{"t":"Influence functions of Neuron-2","x":3,"y":1.8}]},"mark":{"type":"text","fontSize":9},"encoding":{"text":{"field":"t"}}}
]},
{"data":{"name":"e1"},"mark":"rect","encoding":{"x":{"field":"j","type":"ordinal","scale":{"type":"band","domain":[1,2,3,4,5,6,7,8],"range":[53,202],"paddingInner":0,"paddingOuter":0},"axis":{"orient":"bottom","title":"Neuron j","offset":-73,"labelAngle":0,"titleFontSize":11,"titlePadding":3,"labelFontSize":7.5,"labelPadding":6}},"y":{"field":"i","type":"ordinal","scale":{"type":"band","domain":[1,2,3,4,5,6,7,8],"range":[431,282],"paddingInner":0,"paddingOuter":0},"axis":{"orient":"left","title":"Neuron i","offset":-53,"labelAngle":270,"labelBaseline":"middle","titleFontSize":11,"titlePadding":4,"labelFontSize":7.5,"labelPadding":8}},"color":{"field":"v","type":"quantitative","scale":{"domain":[0,0.2,0.45,0.7,1],"range":["#dcdcdc","#f0cdbb","#f59c7a","#e0604c","#b40426"]},"legend":null}}},
{"data":{"name":"e2"},"mark":"rect","encoding":{"x":{"field":"j","type":"ordinal","scale":{"type":"band","domain":[1,2,3,4,5,6,7,8],"range":[232,381],"paddingInner":0,"paddingOuter":0},"axis":{"orient":"bottom","title":"Neuron j","offset":-73,"labelAngle":0,"titleFontSize":11,"titlePadding":3,"labelFontSize":7.5,"labelPadding":6}},"y":{"field":"i","type":"ordinal","scale":{"type":"band","domain":[1,2,3,4,5,6,7,8],"range":[431,282],"paddingInner":0,"paddingOuter":0},"axis":{"orient":"left","title":"Neuron i","offset":-232,"labelAngle":270,"labelBaseline":"middle","titleFontSize":11,"titlePadding":4,"labelFontSize":7.5,"labelPadding":8}},"color":{"field":"v","type":"quantitative","scale":{"domain":[0,0.2,0.45,0.7,1],"range":["#dcdcdc","#f0cdbb","#f59c7a","#e0604c","#b40426"]},"legend":{"title":null,"orient":"none","legendX":384,"legendY":283,"gradientLength":148,"gradientThickness":9,"values":[0,0.2,0.4,0.6,0.8,1],"format":".1f","labelFontSize":7.5,"labelColor":"#444","labelOffset":6}}}},
{"data":{"values":[{"t":"Functional Connectivity: Ground Truth","x":4.53,"y":8.94},{"t":"Functional Connectivity: Estimation","x":14.05,"y":8.94}]},"mark":{"type":"text","fontSize":10},"encoding":{"x":{"field":"x","type":"quantitative","scale":{"domain":[0.5,8.5],"range":[53,202]},"axis":null},"y":{"field":"y","type":"quantitative","scale":{"domain":[0.5,8.5],"range":[431,282]},"axis":null},"text":{"field":"t"}}},
{"data":{"values":[{"t":"(e)","x":9.05,"y":-2.67}]},"mark":{"type":"text","fontSize":20,"font":"Liberation Serif","color":"#111"},"encoding":{"x":{"field":"x","type":"quantitative","scale":{"domain":[0.5,8.5],"range":[53,202]},"axis":null},"y":{"field":"y","type":"quantitative","scale":{"domain":[0.5,8.5],"range":[431,282]},"axis":null},"text":{"field":"t"}}},
{"encoding":{"x":{"field":"x","type":"quantitative","scale":{"domain":[-10.7,209.4],"range":[459,623]},"axis":{"orient":"bottom","title":"Iteration","offset":-70,"values":[0,50,100,150,200],"titlePadding":3}},"y":{"field":"y","type":"quantitative","scale":{"domain":[-3.79,1.23],"range":[434,279]},"axis":{"orient":"left","title":"Loglikelihood","offset":-459,"values":[-3,-2,-1,0,1],"format":".0f","titlePadding":3}}},
"layer":[
{"data":{"values":[{"x":-10.7,"x1":209.4,"y":-3.79,"y1":1.23}]},"mark":{"type":"rect","fill":null,"stroke":"#ddd","strokeWidth":1.5},"encoding":{"x2":{"field":"x1"},"y2":{"field":"y1"}}},
{"data":{"values":[{"s":"training loglikelihood of EM","x":0,"y":-3.55},{"s":"training loglikelihood of EM","x":1,"y":-1},{"s":"training loglikelihood of EM","x":2,"y":0.3},{"s":"training loglikelihood of EM","x":3,"y":0.45},{"s":"training loglikelihood of EM","x":5,"y":0.65},{"s":"training loglikelihood of EM","x":8,"y":0.75},{"s":"training loglikelihood of EM","x":15,"y":0.8},{"s":"training loglikelihood of EM","x":25,"y":0.85},{"s":"training loglikelihood of EM","x":50,"y":0.88},{"s":"training loglikelihood of EM","x":100,"y":0.92},{"s":"training loglikelihood of EM","x":125,"y":0.96},{"s":"training loglikelihood of EM","x":150,"y":0.98},{"s":"training loglikelihood of EM","x":200,"y":0.98},{"s":"test loglikelihood of EM","x":0,"y":-3.6},{"s":"test loglikelihood of EM","x":1,"y":-1},{"s":"test loglikelihood of EM","x":2,"y":0.3},{"s":"test loglikelihood of EM","x":3,"y":0.5},{"s":"test loglikelihood of EM","x":5,"y":0.7},{"s":"test loglikelihood of EM","x":8,"y":0.8},{"s":"test loglikelihood of EM","x":15,"y":0.83},{"s":"test loglikelihood of EM","x":25,"y":0.89},{"s":"test loglikelihood of EM","x":50,"y":0.91},{"s":"test loglikelihood of EM","x":100,"y":0.93},{"s":"test loglikelihood of EM","x":125,"y":0.96},{"s":"test loglikelihood of EM","x":150,"y":0.97},{"s":"test loglikelihood of EM","x":200,"y":0.97}]},"mark":{"type":"line","strokeWidth":1.3},"encoding":{"color":{"field":"s","type":"nominal","scale":{"domain":["training loglikelihood of EM","test loglikelihood of EM"],"range":["#c44e52","#4c72b0"]},"legend":{"title":null,"orient":"none","legendX":479,"legendY":401,"symbolType":"stroke","symbolSize":220,"clipHeight":10,"symbolStrokeWidth":1.3,"fillColor":"#fff","strokeColor":"#ddd","padding":3,"labelFontSize":8,"labelColor":"#333","rowPadding":2,"labelLimit":0,"cornerRadius":2}}}},
{"data":{"values":[{"t":"Synthetic-data Loglikelihood Curve","x":100.7,"y":1.42}]},"mark":{"type":"text","fontSize":9},"encoding":{"text":{"field":"t"}}},
{"data":{"values":[{"t":"1e4","x":-2.6,"y":1.33}]},"mark":{"type":"text","fontSize":6},"encoding":{"text":{"field":"t"}}},
{"data":{"values":[{"t":"(f)","x":84.6,"y":-5.6}]},"mark":{"type":"text","fontSize":20,"font":"Liberation Serif","color":"#111"},"encoding":{"text":{"field":"t"}}}
]},
{"encoding":{"x":{"field":"x","type":"quantitative","scale":{"domain":[190,2118],"range":[668,798]},"axis":{"orient":"bottom","title":"# of quadrature nodes","offset":-164,"values":[500,1000,1500,2000],"format":"d","ticks":true,"tickSize":2.5,"tickColor":"#333","labelPadding":2,"titleFontSize":9,"titlePadding":2}},"y":{"field":"y","type":"quantitative","scale":{"domain":[0,2],"range":[340,280]},"axis":{"orient":"left","title":"Loglikelihood","offset":-668,"values":[0,0.5,1,1.5,2],"format":".1f","ticks":true,"tickSize":2.5,"tickColor":"#333","labelPadding":2,"titleFontSize":9.3,"titlePadding":1}}},
"layer":[
{"data":{"values":[{"s":"training loglikelihood","x":300,"y":1.05},{"s":"training loglikelihood","x":500,"y":1.1},{"s":"training loglikelihood","x":700,"y":1.05},{"s":"training loglikelihood","x":900,"y":1.03},{"s":"training loglikelihood","x":1500,"y":1.03},{"s":"training loglikelihood","x":2000,"y":1.02},{"s":"test loglikelihood","x":300,"y":1.03},{"s":"test loglikelihood","x":500,"y":1.07},{"s":"test loglikelihood","x":700,"y":1},{"s":"test loglikelihood","x":900,"y":1},{"s":"test loglikelihood","x":1500,"y":1},{"s":"test loglikelihood","x":2000,"y":1}]},"mark":{"type":"line","strokeWidth":1.1,"point":{"size":22,"filled":true}},"encoding":{"color":{"field":"s","type":"nominal","scale":{"domain":["training loglikelihood","test loglikelihood","running time"],"range":["#c44e52","#4c72b0","#8172b3"]},"legend":{"title":null,"orient":"none","legendX":713,"legendY":312,"symbolType":"stroke","symbolSize":200,"clipHeight":7,"symbolStrokeWidth":1.2,"fillColor":"rgba(255,255,255,0.8)","strokeColor":"#ddd","padding":2,"labelFontSize":6.2,"labelColor":"#333","rowPadding":1.3,"labelLimit":0}}}},
{"data":{"values":[{"x":190,"x1":2118,"y":0,"y1":2}]},"mark":{"type":"rect","fill":null,"stroke":"#333","strokeWidth":1.1},"encoding":{"x2":{"field":"x1"},"y2":{"field":"y1"}}},
{"data":{"values":[{"t":"Trade-off between Accuracy and Efficiency","x":1169,"y":2.33}]},"mark":{"type":"text","fontSize":9},"encoding":{"text":{"field":"t"}}},
{"data":{"values":[{"t":"1e4","x":264,"y":2.1},{"t":"1e3","x":2029,"y":2.1}]},"mark":{"type":"text","fontSize":6},"encoding":{"text":{"field":"t"}}}
]},
{"data":{"values":[{"x":300,"y":1.088},{"x":500,"y":1.128},{"x":700,"y":1.133},{"x":900,"y":1.155},{"x":1500,"y":1.21},{"x":2000,"y":1.297}]},"mark":{"type":"line","color":"#8172b3","strokeWidth":1.1,"point":{"size":22,"filled":true,"color":"#8172b3"}},"encoding":{"x":{"field":"x","type":"quantitative","scale":{"domain":[190,2118],"range":[668,798]},"axis":null},"y":{"field":"y","type":"quantitative","scale":{"domain":[1.072,1.316],"range":[340,280]},"axis":{"title":"Running Time (s)","orient":"right","offset":-231,"values":[1.1,1.15,1.2,1.25,1.3],"format":".2f","ticks":true,"tickSize":2.5,"tickColor":"#333","labelPadding":2,"titleFontSize":9.3,"titlePadding":2}}}},
{"encoding":{"x":{"field":"x","type":"quantitative","scale":{"domain":[0.6,8.5],"range":[668,798]},"axis":{"orient":"bottom","title":"# of base functions","offset":-69,"values":[2,4,6,8],"ticks":true,"tickSize":2.5,"tickColor":"#333","labelPadding":2,"titleFontSize":9,"titlePadding":2}},"y":{"field":"y","type":"quantitative","scale":{"domain":[0.751,1.044],"range":[435,375]},"axis":{"orient":"left","title":"Loglikelihood","offset":-668,"values":[0.8,0.9,1],"format":".1f","ticks":true,"tickSize":2.5,"tickColor":"#333","labelPadding":2,"titleFontSize":9.3,"titlePadding":1}}},
"layer":[
{"data":{"values":[{"s":"training loglikelihood","x":1,"y":0.8},{"s":"training loglikelihood","x":2,"y":0.874},{"s":"training loglikelihood","x":3,"y":0.932},{"s":"training loglikelihood","x":4,"y":1.019},{"s":"training loglikelihood","x":5,"y":1.016},{"s":"training loglikelihood","x":6,"y":1.024},{"s":"training loglikelihood","x":7,"y":1.027},{"s":"training loglikelihood","x":8,"y":1.024},{"s":"test loglikelihood","x":1,"y":0.774},{"s":"test loglikelihood","x":2,"y":0.839},{"s":"test loglikelihood","x":3,"y":0.915},{"s":"test loglikelihood","x":4,"y":0.994},{"s":"test loglikelihood","x":5,"y":0.995},{"s":"test loglikelihood","x":6,"y":0.998},{"s":"test loglikelihood","x":7,"y":1},{"s":"test loglikelihood","x":8,"y":0.998}]},"mark":{"type":"line","strokeWidth":1.1,"point":{"size":22,"filled":true}},"encoding":{"color":{"field":"s","type":"nominal","scale":{"domain":["training loglikelihood","test loglikelihood","running time"],"range":["#c44e52","#4c72b0","#8172b3"]},"legend":{"title":null,"orient":"none","legendX":713,"legendY":405,"symbolType":"stroke","symbolSize":200,"clipHeight":7,"symbolStrokeWidth":1.2,"fillColor":"rgba(255,255,255,0.8)","strokeColor":"#ddd","padding":2,"labelFontSize":6.2,"labelColor":"#333","rowPadding":1.3,"labelLimit":0}}}},
{"data":{"values":[{"x":0.6,"x1":8.5,"y":0.751,"y1":1.044}]},"mark":{"type":"rect","fill":null,"stroke":"#333","strokeWidth":1.1},"encoding":{"x2":{"field":"x1"},"y2":{"field":"y1"}}},
{"data":{"values":[{"t":"1e4","x":0.9,"y":1.0635},{"t":"1e3","x":8.14,"y":1.0635}]},"mark":{"type":"text","fontSize":6},"encoding":{"text":{"field":"t"}}},
{"data":{"values":[{"t":"(g)","x":4.61,"y":0.482}]},"mark":{"type":"text","fontSize":20,"font":"Liberation Serif","color":"#111"},"encoding":{"text":{"field":"t"}}}
]},
{"data":{"values":[{"x":1,"y":0.45},{"x":2,"y":0.74},{"x":3,"y":1.08},{"x":4,"y":1.28},{"x":5,"y":1.92},{"x":6,"y":1.8},{"x":7,"y":1.97},{"x":8,"y":2.2}]},"mark":{"type":"line","color":"#8172b3","strokeWidth":1.1,"point":{"size":22,"filled":true,"color":"#8172b3"}},"encoding":{"x":{"field":"x","type":"quantitative","scale":{"domain":[0.6,8.5],"range":[668,798]},"axis":null},"y":{"field":"y","type":"quantitative","scale":{"domain":[0.3,2.34],"range":[435,375]},"axis":{"title":"Running Time (s)","orient":"right","offset":-231,"values":[0.5,1,1.5,2],"format":".1f","ticks":true,"tickSize":2.5,"tickColor":"#333","labelPadding":2,"titleFontSize":9.3,"titlePadding":2}}}},
{"encoding":{"x":{"field":"x","type":"quantitative","scale":{"domain":[0,3000],"range":[872,1024]},"axis":{"orient":"bottom","title":"Averaged # of points on each dimension","offset":-70,"values":[0,500,1000,1500,2000,2500,3000],"format":"d","titlePadding":3,"titleFontSize":8.8}},"y":{"field":"y","type":"quantitative","scale":{"domain":[-10,810],"range":[434,279]},"axis":{"orient":"left","title":"Seconds","offset":-872,"values":[0,100,200,300,400,500,600,700,800],"titlePadding":4,"labelPadding":3}}},
"layer":[
{"data":{"values":[{"x":0,"x1":3000,"y":-10,"y1":810}]},"mark":{"type":"rect","fill":null,"stroke":"#ddd","strokeWidth":1.5},"encoding":{"x2":{"field":"x1"},"y2":{"field":"y1"}}},
{"data":{"values":[{"s":"EM","x":100,"y":4},{"s":"EM","x":500,"y":7},{"s":"EM","x":1000,"y":13},{"s":"EM","x":1500,"y":20},{"s":"EM","x":1800,"y":26},{"s":"EM","x":2000,"y":33},{"s":"EM","x":2500,"y":45},{"s":"EM","x":2900,"y":55},{"s":"EM","x":3000,"y":65},{"s":"MLE","x":100,"y":15},{"s":"MLE","x":200,"y":50},{"s":"MLE","x":300,"y":125},{"s":"MLE","x":400,"y":145},{"s":"MLE","x":500,"y":215},{"s":"MLE","x":600,"y":350},{"s":"MLE","x":700,"y":425},{"s":"MLE","x":800,"y":610},{"s":"MLE","x":900,"y":720},{"s":"MLE","x":995,"y":810},{"s":"MMEL","x":0,"y":0},{"s":"MMEL","x":100,"y":370},{"s":"MMEL","x":148,"y":810},{"s":"MCMC-Aug","x":100,"y":20},{"s":"MCMC-Aug","x":200,"y":60},{"s":"MCMC-Aug","x":300,"y":120},{"s":"MCMC-Aug","x":400,"y":190},{"s":"MCMC-Aug","x":500,"y":280},{"s":"MCMC-Aug","x":600,"y":380},{"s":"MCMC-Aug","x":700,"y":500},{"s":"MCMC-Aug","x":800,"y":650},{"s":"MCMC-Aug","x":884,"y":810}]},"mark":{"type":"line","strokeWidth":1.1},"encoding":{"color":{"field":"s","type":"nominal","scale":{"domain":["EM","MLE","MMEL","MCMC-Aug"],"range":["#4c72b0","#dd8452","#55a868","#c44e52"]},"legend":{"title":null,"orient":"none","legendX":942,"legendY":284,"symbolType":"stroke","symbolSize":250,"clipHeight":10,"symbolStrokeWidth":1.2,"fillColor":"#fff","strokeColor":"#ddd","padding":3,"labelFontSize":8.5,"labelColor":"#333","rowPadding":2.7,"cornerRadius":2}}}},
{"data":{"values":[{"t":"Running Time","x":1500,"y":842}]},"mark":{"type":"text","fontSize":9},"encoding":{"text":{"field":"t"}}},
{"data":{"values":[{"t":"(h)","x":1322,"y":-306}]},"mark":{"type":"text","fontSize":20,"font":"Liberation Serif","color":"#111"},"encoding":{"text":{"field":"t"}}}
]}
]}
